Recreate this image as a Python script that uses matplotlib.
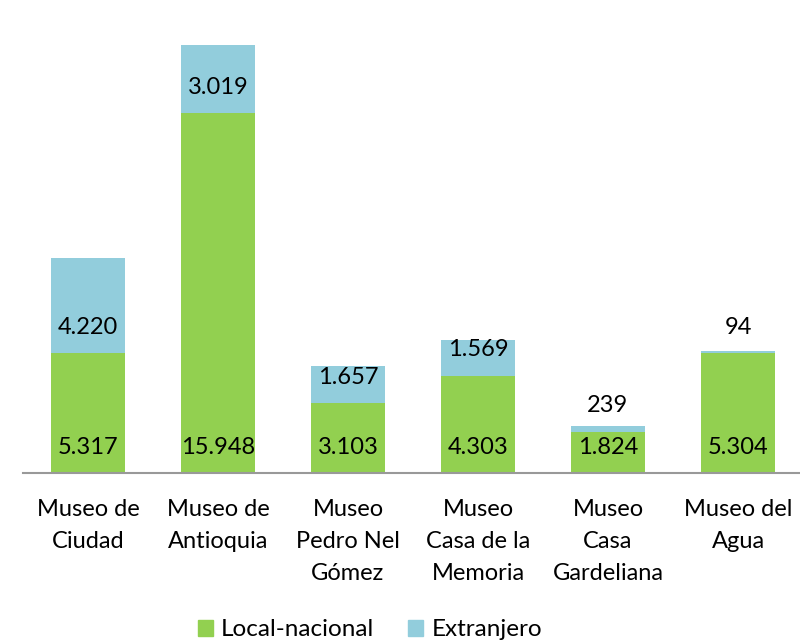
import matplotlib.pyplot as plt
from matplotlib.patches import Patch

museos = ["Museo de\nCiudad", "Museo de\nAntioquia", "Museo\nPedro Nel\nGómez",
          "Museo\nCasa de la\nMemoria", "Museo\nCasa\nGardeliana", "Museo del\nAgua"]
local_nacional = [5317, 15948, 3103, 4303, 1824, 5304]
extranjero = [4220, 3019, 1657, 1569, 239, 94]
series_names = ["Local-nacional", "Extranjero"]

GREEN = "#92D050"
BLUE = "#92CDDC"
FONT = "Lato"

plt.rcParams["font.family"] = [FONT, "DejaVu Sans"]


def fmt(v):
    return f"{v:,}".replace(",", ".")


fig = plt.figure(figsize=(8, 6.43), dpi=100)
ax = fig.add_axes([23 / 800, 170 / 643, 780 / 800, 473 / 643])

x = list(range(len(museos)))
ax.bar(x, local_nacional, width=0.57, color=GREEN)
ax.bar(x, extranjero, width=0.57, bottom=local_nacional, color=BLUE)

# labels sit just above the base of each segment
for i in x:
    for base, val in ((0, local_nacional[i]), (local_nacional[i], extranjero[i])):
        ax.annotate(fmt(val), (i, base), xytext=(0, 18.7), textcoords="offset points",
                    ha="center", va="center", fontsize=17, color="black")

ax.set_xlim(-0.5, len(museos) - 0.5)
ax.set_ylim(0, 20960)
ax.set_yticks([])
ax.set_xticks(x)
ax.set_xticklabels(museos, fontsize=17, linespacing=1.65)
ax.tick_params(axis="x", length=0, pad=19)
for side in ("top", "right", "left"):
    ax.spines[side].set_visible(False)
ax.spines["bottom"].set_color("#999999")
ax.spines["bottom"].set_linewidth(1.5)

handles = [Patch(color=GREEN), Patch(color=BLUE)]
fig.legend(handles, series_names, loc="center", bbox_to_anchor=(370 / 800, 13 / 643),
           ncol=2, frameon=False, fontsize=17.5, handlelength=0.6, handleheight=0.6,
           handletextpad=0.35, columnspacing=1.4)

fig.savefig("out.png", dpi=100)
